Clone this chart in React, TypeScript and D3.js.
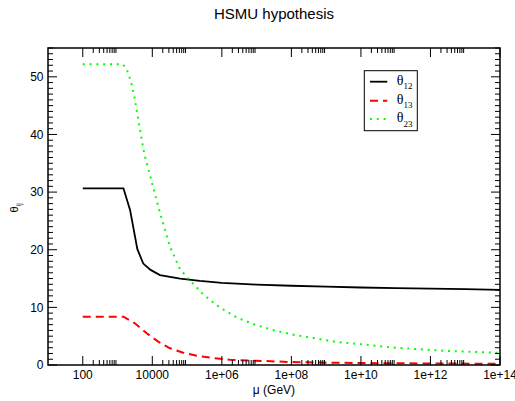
import React from "react";
import * as d3 from "d3";

// log10(mu / GeV) and angle values (degrees)
const logMu12 = [2, 3.17, 3.36, 3.57, 3.74, 3.95, 4.22, 4.8, 5.37, 6, 7, 8, 9, 10, 11, 12, 13, 14];
const theta12 = [30.66, 30.66, 26.9, 20.1, 17.6, 16.5, 15.6, 15.0, 14.6, 14.25, 13.95, 13.75, 13.6, 13.45, 13.35, 13.25, 13.15, 13.05];

const logMu13 = [2, 3.17, 3.5, 3.84, 4.17, 4.51, 4.89, 5.28, 5.75, 6.23, 7.29, 7.96, 9.11, 10.5, 12, 14];
const theta13 = [8.38, 8.38, 7.23, 5.5, 4.05, 2.9, 2.14, 1.6, 1.2, 0.9, 0.68, 0.52, 0.4, 0.32, 0.26, 0.22];

const logMu23 = [2, 3.15, 3.26, 3.38, 3.47, 3.57, 3.67, 3.77, 3.93, 4.22, 4.51, 4.8, 5.08, 5.49, 5.95, 6.44, 6.98, 7.53, 8.1, 8.68, 9.3, 10, 10.97, 12.36, 14];
const theta23 = [52.2, 52.2, 51.35, 49.3, 47.0, 43.5, 40.0, 36.6, 33.0, 26.4, 20.5, 16.6, 14.7, 12.1, 9.95, 8.2, 6.94, 5.95, 5.2, 4.63, 4.0, 3.6, 3.0, 2.48, 2.1];

const xMajorTicks = [1e2, 1e4, 1e6, 1e8, 1e10, 1e12, 1e14];
const xTickLabels = ["100", "10000", "1e+06", "1e+08", "1e+10", "1e+12", "1e+14"];
const yMajorTicks = [0, 10, 20, 30, 40, 50];

const series = [
  { sub: "12", logMu: logMu12, theta: theta12, color: "#000000", dash: "none", width: 1.8 },
  { sub: "13", logMu: logMu13, theta: theta13, color: "#ff0000", dash: "8 5", width: 2 },
  { sub: "23", logMu: logMu23, theta: theta23, color: "#00ff00", dash: "2 4.8", width: 2 },
];

export default function App() {
  const L = 48, R = 500, T = 48, B = 365;
  const x = d3.scaleLog().domain([10, 1e14]).range([L, R]);
  const y = d3.scaleLinear().domain([0, 55]).range([B, T]);

  const xMinor: number[] = [];
  for (let e = 2; e <= 12; e += 2) for (let k = 2; k <= 9; k++) xMinor.push(k * Math.pow(10, e));
  const yMinor: number[] = d3.range(0, 56).filter((v) => v % 10 !== 0);

  const sans = "'Liberation Sans', Arial, Helvetica, sans-serif";
  const serif = "'Liberation Serif', 'Times New Roman', serif";
  const MJ = 9, MN = 5;

  return (
    <svg width={515} height={401} style={{ position: "absolute", left: 0, top: 0 }}>
      <rect x={0} y={0} width={515} height={401} fill="#fff" />
      <text x={274} y={19} textAnchor="middle" fontFamily={sans} fontSize={15}>HSMU hypothesis</text>

      <g>
        {series.map((s) => {
          const line = d3.line<number>()
            .x((_, i) => x(Math.pow(10, s.logMu[i])))
            .y((d) => y(d));
          return (
            <path key={s.sub} d={line(s.theta) || ""} fill="none" stroke={s.color}
              strokeWidth={s.width} strokeDasharray={s.dash === "none" ? undefined : s.dash} />
          );
        })}
      </g>

      <g stroke="#000" strokeWidth={1}>
        {xMajorTicks.map((t) => (
          <g key={"xm" + t}>
            <line x1={x(t)} x2={x(t)} y1={B} y2={B - MJ} />
            <line x1={x(t)} x2={x(t)} y1={T} y2={T + MJ} />
          </g>
        ))}
        {xMinor.map((t) => (
          <g key={"xn" + t}>
            <line x1={x(t)} x2={x(t)} y1={B} y2={B - MN} />
            <line x1={x(t)} x2={x(t)} y1={T} y2={T + MN} />
          </g>
        ))}
        {yMajorTicks.map((t) => (
          <g key={"ym" + t}>
            <line x1={L} x2={L + MJ} y1={y(t)} y2={y(t)} />
            <line x1={R} x2={R - MJ} y1={y(t)} y2={y(t)} />
          </g>
        ))}
        {yMinor.map((t) => (
          <g key={"yn" + t}>
            <line x1={L} x2={L + MN} y1={y(t)} y2={y(t)} />
            <line x1={R} x2={R - MN} y1={y(t)} y2={y(t)} />
          </g>
        ))}
      </g>
      <rect x={L} y={T} width={R - L} height={B - T} fill="none" stroke="#000" strokeWidth={1.5} />

      <g fontFamily={sans} fontSize={12} fill="#000">
        {xMajorTicks.map((t, i) => (
          <text key={"xl" + t} x={x(t)} y={378.5} textAnchor="middle">{xTickLabels[i]}</text>
        ))}
        {yMajorTicks.map((t) => (
          <text key={"yl" + t} x={43.5} y={y(t) + 4.3} textAnchor="end">{t}</text>
        ))}
      </g>

      <text x={274} y={394} textAnchor="middle" fontFamily={sans} fontSize={12}>μ (GeV)</text>
      <text transform="translate(18,212.5) rotate(-90)" fontFamily={sans} fontSize={11}>
        θ<tspan fontSize={7} dy={3}>ij</tspan>
      </text>

      <g>
        <rect x={364.3} y={70.7} width={53} height={60} fill="#fff" stroke="#000" strokeWidth={1} />
        {series.map((s, i) => {
          const ly = [81.7, 100.7, 119][i];
          return (
            <g key={"lg" + s.sub}>
              <line x1={370} x2={387.3} y1={ly} y2={ly} stroke={s.color} strokeWidth={s.width}
                strokeDasharray={s.dash === "none" ? undefined : s.dash} />
              <text x={396.7} y={ly + 3.3} fontFamily={serif} fontSize={14}>
                θ<tspan fontSize={9} dy={4.3}>{s.sub}</tspan>
              </text>
            </g>
          );
        })}
      </g>
    </svg>
  );
}
